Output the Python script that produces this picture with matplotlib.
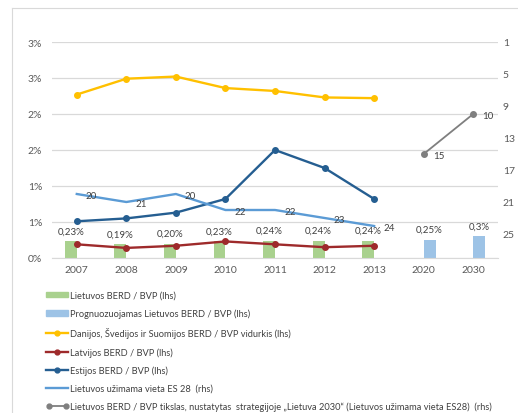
import matplotlib
matplotlib.use('Agg')
import matplotlib.pyplot as plt
from matplotlib.lines import Line2D
from matplotlib.patches import Patch
from matplotlib.legend_handler import HandlerLine2D
import numpy as np

plt.rcParams['font.family'] = ['Lato', 'DejaVu Sans']

nan = np.nan
years = ['2007', '2008', '2009', '2010', '2011', '2012', '2013', '2020', '2030']
lt_berd = [0.23, 0.19, 0.20, 0.23, 0.24, 0.24, 0.24, nan, nan]
lt_berd_forecast = [nan, nan, nan, nan, nan, nan, nan, 0.25, 0.30]
nordic_avg = [2.27, 2.49, 2.52, 2.36, 2.32, 2.23, 2.22, nan, nan]
latvia = [0.19, 0.14, 0.17, 0.23, 0.19, 0.15, 0.17, nan, nan]
estonia = [0.51, 0.55, 0.63, 0.82, 1.50, 1.25, 0.82, nan, nan]
lt_rank = [20, 21, 20, 22, 22, 23, 24, nan, nan]
lt_rank_target = [nan, nan, nan, nan, nan, nan, nan, 15, 10]

left_ticks = [0, 0.5, 1.0, 1.5, 2.0, 2.5, 3.0]
left_tick_labels = ['0%', '1%', '1%', '2%', '2%', '3%', '3%']
right_ticks = [1, 5, 9, 13, 17, 21, 25]

legend_labels = [
    'Lietuvos BERD / BVP (lhs)',
    'Prognuozuojamas Lietuvos BERD / BVP (lhs)',
    'Danijos, Švedijos ir Suomijos BERD / BVP vidurkis (lhs)',
    'Latvijos BERD / BVP (lhs)',
    'Estijos BERD / BVP (lhs)',
    'Lietuvos užimama vieta ES 28  (rhs)',
    'Lietuvos BERD / BVP tikslas, nustatytas  strategijoje „Lietuva 2030“ (Lietuvos užimama vieta ES28)  (rhs)',
]

green = '#a9d18e'
lblue = '#9dc3e6'
yellow = '#ffc000'
red = '#9e2a2b'
dblue = '#255e91'
rank_blue = '#5b9bd5'
gray = '#7f7f7f'
txt = '#595959'
grid = '#d9d9d9'

fig = plt.figure(figsize=(5.18, 4.14), dpi=100)
ax = fig.add_axes([52/518, 1 - 259/414, 446/518, 216/414])
ax2 = ax.twinx()

x = np.arange(len(years))
bw = 0.24

ax.bar(x - bw/2, lt_berd, width=bw, color=green, zorder=2)
ax.bar(x + bw/2, lt_berd_forecast, width=bw, color=lblue, zorder=2)

for i, v in enumerate(lt_berd):
    if not np.isnan(v):
        ax.annotate(f'{v:.2f}%'.replace('.', ','), (x[i] - bw/2, v), xytext=(0, 7.5),
                    textcoords='offset points', ha='center', va='center', fontsize=7, color='#404040')
for i, v in enumerate(lt_berd_forecast):
    if not np.isnan(v):
        ax.annotate(('%g%%' % v).replace('.', ','), (x[i] + bw/2, v), xytext=(0, 7.5),
                    textcoords='offset points', ha='center', va='center', fontsize=7, color='#404040')

ax.plot(x, nordic_avg, color=yellow, lw=1.7, marker='o', ms=4, zorder=3)
ax.plot(x, latvia, color=red, lw=1.7, marker='o', ms=4, zorder=3)
ax.plot(x, estonia, color=dblue, lw=1.7, marker='o', ms=4, zorder=3)

ax2.plot(x, lt_rank, color=rank_blue, lw=1.7, zorder=3)
ax2.plot(x, lt_rank_target, color=gray, lw=1.3, marker='o', ms=4, zorder=3)
for series in (lt_rank, lt_rank_target):
    for i, r in enumerate(series):
        if not np.isnan(r):
            ax2.annotate(f'{r:g}', (x[i], r), xytext=(6.5, -1), textcoords='offset points',
                         ha='left', va='center', fontsize=7, color='#404040')

ax.set_xlim(-0.5, len(years) - 0.5)
ax.set_ylim(0, 3.0)
ax.set_yticks(left_ticks)
ax.set_yticklabels(left_tick_labels)
ax.set_xticks(x)
ax.set_xticklabels(years)
ax2.set_ylim(28, 1)
ax2.set_yticks(right_ticks)

ax.yaxis.grid(True, color=grid, lw=0.9)
ax.set_axisbelow(True)
for a in (ax, ax2):
    for s in a.spines.values():
        s.set_visible(False)
ax.spines['bottom'].set_visible(True)
ax.spines['bottom'].set_color(grid)
ax.tick_params(axis='y', length=0, pad=7, labelsize=7.5, labelcolor=txt)
ax.tick_params(axis='x', length=0, pad=5, labelsize=7.5, labelcolor=txt)
ax2.tick_params(axis='y', length=0, pad=3.5, labelsize=7.5, labelcolor=txt)

handles = [
    Patch(color=green),
    Patch(color=lblue),
    Line2D([], [], color=yellow, lw=1.7, marker='o', ms=3.5),
    Line2D([], [], color=red, lw=1.7, marker='o', ms=3.5),
    Line2D([], [], color=dblue, lw=1.7, marker='o', ms=3.5),
    Line2D([], [], color=rank_blue, lw=1.7),
]
target_handle = Line2D([], [], color=gray, lw=1.3, marker='o', ms=3.5)
handles.append(target_handle)

fig.legend(handles, legend_labels, loc='upper left', bbox_to_anchor=(46/518, 1 - 292/414),
           frameon=False, fontsize=6.7, labelcolor='#404040', labelspacing=0.95,
           handlelength=2.4, handleheight=0.5, handletextpad=0.2, borderpad=0, borderaxespad=0,
           handler_map={target_handle: HandlerLine2D(numpoints=2)})

# thin chart-area frame (top and left edge)
fig.add_artist(Line2D([12/518, 1], [1 - 9/414, 1 - 9/414], transform=fig.transFigure, color=grid, lw=0.8))
fig.add_artist(Line2D([12/518, 12/518], [0, 1 - 9/414], transform=fig.transFigure, color=grid, lw=0.8))

fig.savefig('out.png', dpi=100)
